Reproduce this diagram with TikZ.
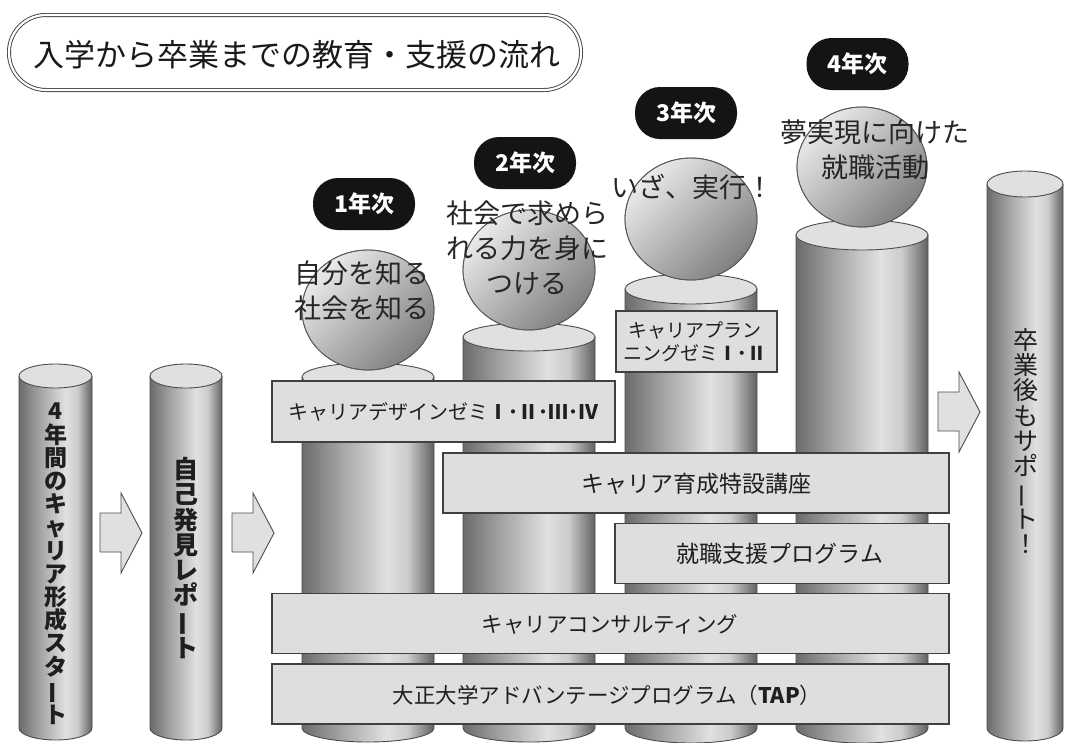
\documentclass[tikz,border=0pt]{standalone}
\usepackage{fontspec}
\newfontfamily\jp{Noto Sans CJK JP}
\pgfdeclarehorizontalshading{cylsh}{100bp}{color(0bp)=(black!58); color(25bp)=(black!58); color(40bp)=(black!35); color(57bp)=(black!12); color(65bp)=(black!20); color(75bp)=(black!62); color(100bp)=(black!62)}
\tikzset{
  cylline/.style={draw=black!70, line width=0.9pt},
  topface/.style={cylline, fill=black!12},
  sphere/.style={draw=black!65, line width=0.8pt, top color=black!8, bottom color=black!50, shading angle=45},
  progbox/.style={draw=black!75, line width=1.1pt, fill=black!13},
  blockarrow/.style={draw=black!70, line width=0.9pt, fill=black!12, line join=miter},
  pill/.style={fill=black!92, rounded corners=25pt, minimum width=102pt, minimum height=52pt, inner sep=0pt, text=white, font={\jp\bfseries\fontsize{23}{23}\selectfont}},
  boxtext/.style={inner sep=0pt, text=black!88, align=center},
  balltext/.style={inner sep=0pt, text=black!85, align=center, font={\jp\fontsize{27}{35}\selectfont}},
  vtext/.style={inner sep=0pt, text=black!88, align=center},
}
\newcommand\mycyl[4]{%
  \shade[shading=cylsh] (#1,#3) -- (#1,728) arc[start angle=180, end angle=0, x radius={(#2-#1)/2}, y radius=#4] -- (#2,#3) -- cycle;
  \draw[cylline] (#1,#3) -- (#1,728) arc[start angle=180, end angle=0, x radius={(#2-#1)/2}, y radius=#4] -- (#2,#3);
  \draw[topface] ({(#1+#2)/2},#3) ellipse[x radius={(#2-#1)/2}, y radius=#4];
}
\newcommand\vbar{\rotatebox[origin=c]{90}{ー}}
\begin{document}
\begin{tikzpicture}[x=1pt,y=-1pt]
\useasboundingbox (0,0) rectangle (1070,742);
\clip (0,0) rectangle (1070,742);
\fill[white] (0,0) rectangle (1070,742);

% title
\node[draw=black!75, double=white, double distance=2.2pt, line width=0.9pt, rounded corners=37pt,
      minimum width=572pt, minimum height=75pt, inner sep=0pt] (title) at (295,52.5) {};
\node[inner sep=0pt, font={\jp\fontsize{31}{31}\selectfont}, text=black!90] (titletext) at (297,55) {入学から卒業までの教育・支援の流れ};

% cylinders
\mycyl{19}{92}{376}{12}
\mycyl{150}{222}{376}{12}
\mycyl{302}{434}{377}{14}
\mycyl{463}{595}{337}{14}
\mycyl{625}{757}{289}{15}
\mycyl{796}{928}{235}{15}
\mycyl{987}{1063}{184}{13}

% spheres
\shade[sphere] (368,310) ellipse[x radius=66, y radius=60];
\shade[sphere] (529,270) ellipse[x radius=66, y radius=60];
\shade[sphere] (691,219) ellipse[x radius=66, y radius=61];
\shade[sphere] (862,167) ellipse[x radius=65, y radius=60];
\draw[draw=black!65, line width=0.8pt] (368,310) ellipse[x radius=66, y radius=60];
\draw[draw=black!65, line width=0.8pt] (529,270) ellipse[x radius=66, y radius=60];
\draw[draw=black!65, line width=0.8pt] (691,219) ellipse[x radius=66, y radius=61];
\draw[draw=black!65, line width=0.8pt] (862,167) ellipse[x radius=65, y radius=60];

% program boxes
\node[progbox, minimum width=161pt, minimum height=61pt, inner sep=0pt] (plan) at (696.5,341.5) {};
\node[progbox, minimum width=343pt, minimum height=61pt, inner sep=0pt] (design) at (443.5,411.5) {};
\node[progbox, minimum width=506pt, minimum height=60pt, inner sep=0pt] (ikusei) at (696,483) {};
\node[progbox, minimum width=334pt, minimum height=60pt, inner sep=0pt] (shushoku) at (782,553.5) {};
\node[progbox, minimum width=677pt, minimum height=60pt, inner sep=0pt] (consult) at (610.5,623.5) {};
\node[progbox, minimum width=677pt, minimum height=60pt, inner sep=0pt] (tap) at (610.5,694) {};

% block arrows
\draw[blockarrow] (100,513) -- (121,513) -- (121,493) -- (142,533) -- (121,573) -- (121,552) -- (100,552) -- cycle;
\draw[blockarrow] (232,513) -- (253,513) -- (253,493) -- (274,533) -- (253,573) -- (253,552) -- (232,552) -- cycle;
\draw[blockarrow] (938,392) -- (959,392) -- (959,372) -- (980,412) -- (959,452) -- (959,431) -- (938,431) -- cycle;

% year pills
\node[pill] (y1) at (364,204) {1年次};
\node[pill] (y2) at (525,163) {2年次};
\node[pill] (y3) at (686,113) {3年次};
\node[pill] (y4) at (857.5,64) {4年次};

% sphere texts
\node[balltext] (t1) at (362,291) {自分を知る\\社会を知る};
\node[balltext] (t2) at (527,248) {社会で求めら\\れる力を身に\\つける};
\node[balltext] (t3) at (692,187) {いざ、実行！};
\node[balltext] (t4) at (875,150) {夢実現に向けた\\就職活動};

% box texts
\node[boxtext, font={\jp\fontsize{19}{23}\selectfont}] (plantext) at (695,341.5) {キャリアプラン\\ニングゼミ{\bfseries Ⅰ･Ⅱ}};
\node[boxtext, font={\jp\fontsize{20}{20}\selectfont}] (designtext) at (443,412) {キャリアデザインゼミ{\bfseries Ⅰ･Ⅱ･Ⅲ･Ⅳ}};
\node[boxtext, font={\jp\fontsize{23}{23}\selectfont}] (ikuseitext) at (696,484) {キャリア育成特設講座};
\node[boxtext, font={\jp\fontsize{23}{23}\selectfont}] (shushokutext) at (780,554) {就職支援プログラム};
\node[boxtext, font={\jp\fontsize{21.5}{21.5}\selectfont}] (consulttext) at (610,624) {キャリアコンサルティング};
\node[boxtext, font={\jp\fontsize{21.5}{21.5}\selectfont}] (taptext) at (607,695) {大正大学アドバンテージプログラム（{\bfseries TAP}）};

% vertical texts
\node[vtext, font={\jp\bfseries\fontsize{23}{23.2}\selectfont}] (start) at (55.5,564) {4\\年\\間\\の\\キ\\ャ\\リ\\ア\\形\\成\\ス\\タ\\\vbar\\ト};
\node[vtext, font={\jp\bfseries\fontsize{25}{25.3}\selectfont}] (report) at (186,558) {自\\己\\発\\見\\レ\\ポ\\\vbar\\ト};
\node[vtext, font={\jp\fontsize{25}{25.3}\selectfont}] (after) at (1026,441) {卒\\業\\後\\も\\サ\\ポ\\\vbar\\ト\\！};
\end{tikzpicture}
\end{document}
